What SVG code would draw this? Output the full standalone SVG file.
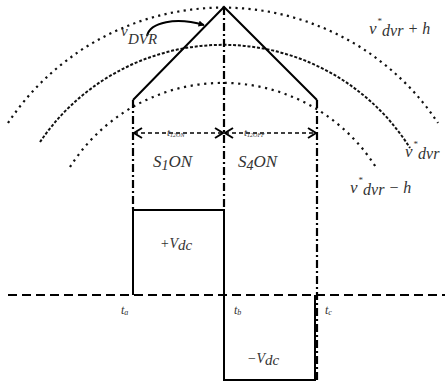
<svg xmlns="http://www.w3.org/2000/svg" width="445" height="383" viewBox="0 0 445 383">
<defs>
<style>
.arcO{fill:none;stroke:#111;stroke-width:2.2;stroke-dasharray:2.2 4.3}
.arcM{fill:none;stroke:#111;stroke-width:2;stroke-dasharray:3 1.8}
.arcI{fill:none;stroke:#111;stroke-width:2.2;stroke-dasharray:2.2 4.6}
.solid{fill:none;stroke:#000;stroke-width:2}
.dd{fill:none;stroke:#000;stroke-width:2.2;stroke-dasharray:8 3 2 3}
.dash{fill:none;stroke:#000;stroke-width:2;stroke-dasharray:9 5}
.tdash{fill:none;stroke:#000;stroke-width:1.6;stroke-dasharray:4 3}
.chev{fill:none;stroke:#000;stroke-width:2}
.lbl{font-family:"Liberation Serif",serif;font-style:italic;fill:#333;font-size:16px}
.st{font-style:normal;font-size:9px}
</style>
<marker id="ah" viewBox="0 0 10 10" refX="9" refY="5" markerWidth="7" markerHeight="6" orient="auto" markerUnits="userSpaceOnUse">
<path d="M0,0 L10,5 L0,10 z" fill="#000"/>
</marker>
</defs>
<rect width="445" height="383" fill="#fff"/>
<g id="arcs">
<path class="arcO" d="M8,123 A258,258 0 0 1 438,123"/>
<path class="arcM" d="M40,142 A221,221 0 0 1 410,148"/>
<path class="arcI" d="M70,167 A181,181 0 0 1 377,169"/>
</g>
<g id="triangle">
<polyline class="solid" points="133,100 224,7 317,100"/>
</g>
<g id="connectors">
<line class="dd" x1="224" y1="7" x2="224" y2="210"/>
<line class="dd" x1="133" y1="100" x2="133" y2="210"/>
<line class="dd" x1="317" y1="100" x2="317" y2="380"/>
<line class="dash" x1="8" y1="295" x2="445" y2="295"/>
<path class="solid" d="M147,36 C150,22 176,17 204,25" marker-end="url(#ah)"/>
<line class="tdash" x1="134" y1="133" x2="316" y2="133"/>
<polyline class="chev" points="142,128 134,133 142,138"/>
<polyline class="chev" points="215,128 223,133 215,138"/>
<polyline class="chev" points="233,128 225,133 233,138"/>
<polyline class="chev" points="308,128 316,133 308,138"/>
</g>
<g id="pulse">
<path class="solid" d="M133,295 V210 H224 V380 H315 V295"/>
</g>
<g id="labels">
<text class="lbl" x="121" y="36" style="font-size:15px">v<tspan x="128" y="44">DVR</tspan></text>
<text class="lbl" x="369" y="34" style="font-size:17px">v<tspan class="st" dx="1" dy="-10">*</tspan><tspan dy="12" style="font-size:16px">dvr</tspan><tspan dy="-2" style="font-size:16px"> + h</tspan></text>
<text class="lbl" x="405" y="157" style="font-size:17px">v<tspan class="st" dx="1" dy="-10">*</tspan><tspan dy="12" style="font-size:16px">dvr</tspan></text>
<text class="lbl" x="350" y="193" style="font-size:17px">v<tspan class="st" dx="1" dy="-10">*</tspan><tspan dy="12" style="font-size:16px">dvr</tspan><tspan dy="-2" style="font-size:16px"> − h</tspan></text>
<text class="lbl" x="167" y="136" style="font-size:11px">t<tspan dy="1" style="font-size:6px">12ON</tspan></text>
<text class="lbl" x="244" y="136" style="font-size:11px">t<tspan dy="1" style="font-size:6px">12OFF</tspan></text>
<text class="lbl" x="153" y="167" style="font-size:17px">S<tspan dy="3" style="font-size:14px">1</tspan><tspan dy="-3">ON</tspan></text>
<text class="lbl" x="238" y="167" style="font-size:17px">S<tspan dy="3" style="font-size:14px">4</tspan><tspan dy="-3">ON</tspan></text>
<text class="lbl" x="160" y="248" style="font-size:14px">+V<tspan dy="2" style="font-size:15px">dc</tspan></text>
<text class="lbl" x="247" y="363" style="font-size:14px">−V<tspan dy="2" style="font-size:15px">dc</tspan></text>
<text class="lbl" x="121" y="314" style="font-size:12px">t<tspan dy="1" style="font-size:8px">a</tspan></text>
<text class="lbl" x="234" y="314" style="font-size:12px">t<tspan dy="1" style="font-size:8px">b</tspan></text>
<text class="lbl" x="325" y="314" style="font-size:12px">t<tspan dy="1" style="font-size:8px">c</tspan></text>
</g>
</svg>
